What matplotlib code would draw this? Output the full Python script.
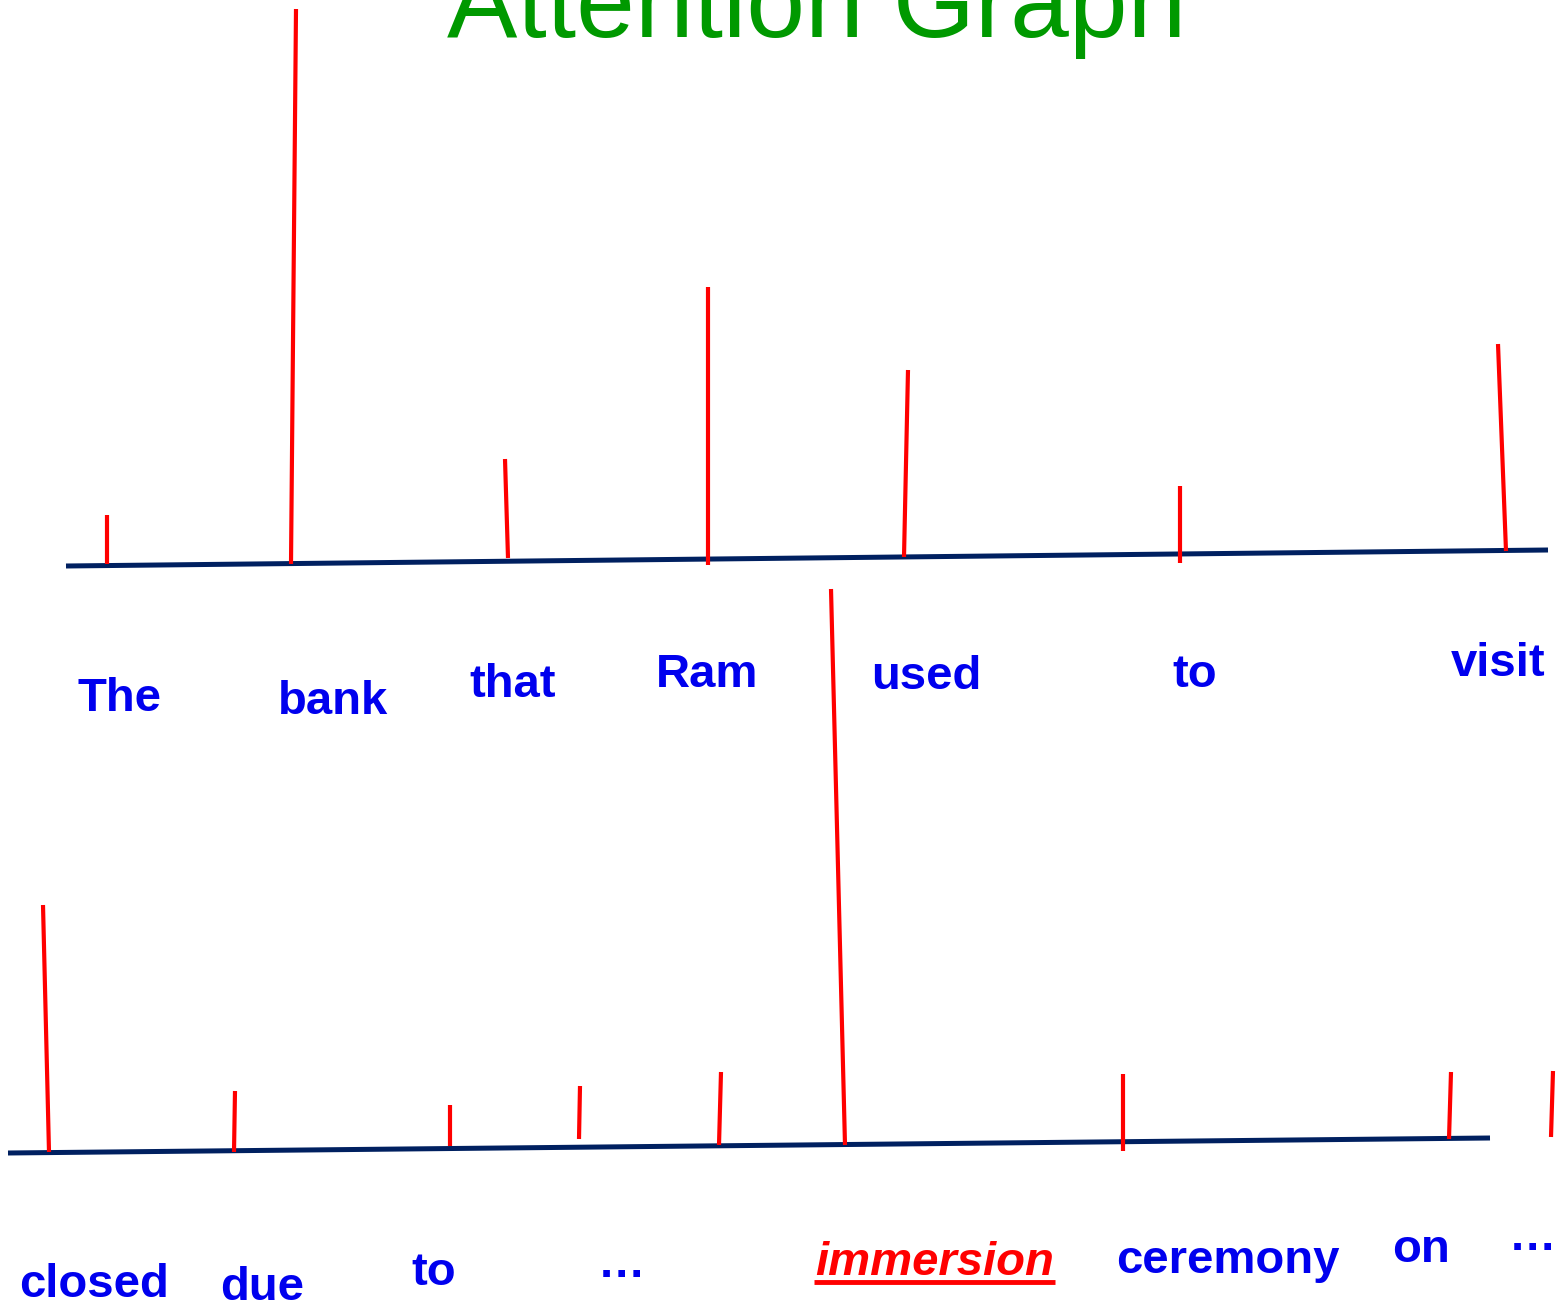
import matplotlib
matplotlib.use("Agg")
import matplotlib.pyplot as plt

# slide is laid out in pixel units (y grows downwards)
W, H = 1564, 1303

# first row: the sentence start, axis from left to right end
top_axis = [(66, 566), (1548, 550)]
top_words = ["The", "bank", "that", "Ram", "used", "to", "visit"]
top_word_x = [119, 333, 513, 707, 926, 1195, 1498]
top_word_y = [711, 714, 697, 687, 689, 687, 676]
# attention stems: base (x, y) and tip (x, y)
top_base_x = [107, 291, 508, 708, 904, 1180, 1506]
top_base_y = [564, 564, 558, 565, 557, 563, 551]
top_tip_x = [107, 296, 505, 708, 908, 1180, 1498]
top_tip_y = [515, 9, 459, 287, 370, 486, 344]

# second row
bot_axis = [(8, 1153), (1490, 1138)]
bot_words = ["closed", "due", "to", "\u2026", "immersion", "ceremony", "on", "\u2026"]
bot_word_x = [94, 262, 434, 621, 935, 1228, 1421, 1532]
bot_word_y = [1297, 1300, 1285, 1277, 1275, 1273, 1262, 1250]
bot_base_x = [49, 234, 450, 579, 719, 845, 1123, 1449, 1551]
bot_base_y = [1152, 1152, 1146, 1139, 1145, 1145, 1151, 1139, 1137]
bot_tip_x = [43, 235, 450, 580, 721, 831, 1123, 1451, 1553]
bot_tip_y = [905, 1091, 1105, 1086, 1072, 589, 1074, 1072, 1071]

highlight = "immersion"

fig = plt.figure(figsize=(W / 100, H / 100), dpi=100)
ax = fig.add_axes([0, 0, 1, 1])
ax.set_xlim(0, W)
ax.set_ylim(H, 0)
ax.axis("off")

axis_color = "#002060"
stem_color = "#ff0000"
word_color = "#0000ee"
font = "Liberation Sans"

for (x0, y0), (x1, y1) in [top_axis, bot_axis]:
    ax.plot([x0, x1], [y0, y1], color=axis_color, lw=3.6, solid_capstyle="butt")

for bx, by, tx, ty in zip(top_base_x + bot_base_x, top_base_y + bot_base_y,
                          top_tip_x + bot_tip_x, top_tip_y + bot_tip_y):
    ax.plot([bx, tx], [by, ty], color=stem_color, lw=3.0, solid_capstyle="butt")

for w, x, y in zip(top_words + bot_words, top_word_x + bot_word_x,
                   top_word_y + bot_word_y):
    if w == highlight:
        ax.text(x, y, w, ha="center", va="baseline", fontsize=34,
                fontweight="bold", style="italic", color=stem_color,
                family=font)
        # underline under the key word
        ax.plot([x - 121, x + 120], [y + 7, y + 7], color=stem_color, lw=3.5,
                solid_capstyle="butt")
    else:
        ax.text(x, y, w, ha="center", va="baseline", fontsize=34,
                fontweight="bold", color=word_color, family=font)

ax.text(817, 37, "Attention Graph", ha="center", va="baseline", fontsize=76,
        color="#009900", family=font)

fig.savefig("out.png", dpi=100)
